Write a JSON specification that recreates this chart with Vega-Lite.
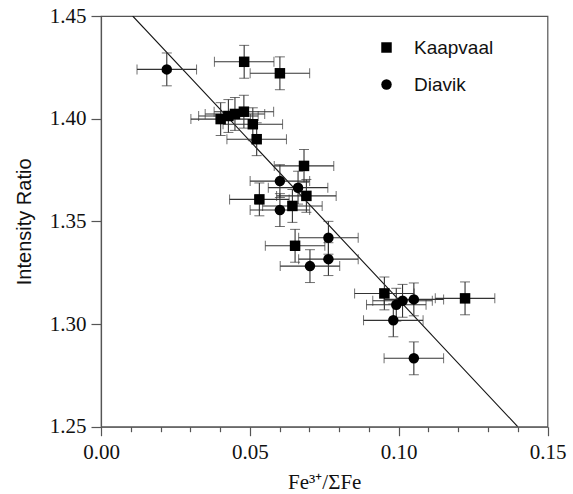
{
  "$schema": "https://vega.github.io/schema/vega-lite/v6.json",
  "width": 446.5,
  "height": 410.7,
  "autosize": {"type": "none"},
  "padding": {"left": 101, "top": 16, "right": 25.5, "bottom": 67.3},
  "background": "white",
  "config": {
    "font": "Liberation Serif",
    "view": {"stroke": "#555", "strokeWidth": 1.2},
    "axis": {"grid": false, "domainColor": "#555", "tickColor": "#555", "domainWidth": 1.2, "tickWidth": 1.2, "labelColor": "#111", "titleColor": "#111", "titleFontWeight": "normal", "labelFont": "Liberation Serif", "titleFont": "Liberation Serif"}
  },
  "datasets": {
    "pts": [
      {"site": "Kaapvaal", "x": 0.0481, "y": 1.4277, "xerr": 0.010, "yerr": 0.008},
      {"site": "Kaapvaal", "x": 0.0601, "y": 1.4221, "xerr": 0.010, "yerr": 0.008},
      {"site": "Kaapvaal", "x": 0.0402, "y": 1.3998, "xerr": 0.010, "yerr": 0.008},
      {"site": "Kaapvaal", "x": 0.0428, "y": 1.4013, "xerr": 0.010, "yerr": 0.008},
      {"site": "Kaapvaal", "x": 0.0450, "y": 1.4023, "xerr": 0.010, "yerr": 0.008},
      {"site": "Kaapvaal", "x": 0.0480, "y": 1.4034, "xerr": 0.010, "yerr": 0.008},
      {"site": "Kaapvaal", "x": 0.0510, "y": 1.3973, "xerr": 0.010, "yerr": 0.008},
      {"site": "Kaapvaal", "x": 0.0523, "y": 1.3900, "xerr": 0.010, "yerr": 0.008},
      {"site": "Kaapvaal", "x": 0.0682, "y": 1.3770, "xerr": 0.010, "yerr": 0.008},
      {"site": "Kaapvaal", "x": 0.0532, "y": 1.3607, "xerr": 0.010, "yerr": 0.008},
      {"site": "Kaapvaal", "x": 0.0643, "y": 1.3575, "xerr": 0.010, "yerr": 0.008},
      {"site": "Kaapvaal", "x": 0.0690, "y": 1.3624, "xerr": 0.010, "yerr": 0.008},
      {"site": "Kaapvaal", "x": 0.0652, "y": 1.3381, "xerr": 0.010, "yerr": 0.008},
      {"site": "Kaapvaal", "x": 0.0952, "y": 1.3149, "xerr": 0.010, "yerr": 0.008},
      {"site": "Kaapvaal", "x": 0.1223, "y": 1.3125, "xerr": 0.010, "yerr": 0.008},
      {"site": "Diavik", "x": 0.0221, "y": 1.4240, "xerr": 0.010, "yerr": 0.008},
      {"site": "Diavik", "x": 0.0601, "y": 1.3696, "xerr": 0.010, "yerr": 0.008},
      {"site": "Diavik", "x": 0.0662, "y": 1.3664, "xerr": 0.010, "yerr": 0.008},
      {"site": "Diavik", "x": 0.0601, "y": 1.3555, "xerr": 0.010, "yerr": 0.008},
      {"site": "Diavik", "x": 0.0764, "y": 1.3420, "xerr": 0.010, "yerr": 0.008},
      {"site": "Diavik", "x": 0.0764, "y": 1.3316, "xerr": 0.010, "yerr": 0.008},
      {"site": "Diavik", "x": 0.0702, "y": 1.3282, "xerr": 0.010, "yerr": 0.008},
      {"site": "Diavik", "x": 0.0992, "y": 1.3094, "xerr": 0.010, "yerr": 0.008},
      {"site": "Diavik", "x": 0.1013, "y": 1.3113, "xerr": 0.010, "yerr": 0.008},
      {"site": "Diavik", "x": 0.1051, "y": 1.3120, "xerr": 0.010, "yerr": 0.008},
      {"site": "Diavik", "x": 0.0982, "y": 1.3018, "xerr": 0.010, "yerr": 0.008},
      {"site": "Diavik", "x": 0.1051, "y": 1.2833, "xerr": 0.010, "yerr": 0.008}
    ],
    "fit": [
      {"x": 0.01065, "y": 1.45},
      {"x": 0.1400, "y": 1.25}
    ]
  },
  "encoding": {
    "x": {"field": "x", "type": "quantitative", "scale": {"domain": [0, 0.15], "nice": false, "zero": false},
      "axis": {"values": [0, 0.01, 0.02, 0.03, 0.04, 0.05, 0.06, 0.07, 0.08, 0.09, 0.1, 0.11, 0.12, 0.13, 0.14, 0.15],
        "labelExpr": "round(datum.value*100) % 5 == 0 ? format(datum.value, '.2f') : ''",
        "tickSize": {"condition": {"test": "round(datum.value*100) % 5 == 0", "value": 9}, "value": 5},
        "labelFont": "Liberation Serif", "labelFontSize": 21,
        "labelPadding": 6, "labelFlush": false, "labelOverlap": false,
        "title": "Fe³⁺/ΣFe", "titleFont": "Liberation Serif", "titleFontSize": 21, "titlePadding": 9}},
    "y": {"field": "y", "type": "quantitative", "scale": {"domain": [1.25, 1.45], "nice": false, "zero": false},
      "axis": {"values": [1.25, 1.3, 1.35, 1.4, 1.45], "format": ".2f", "tickSize": 10, "labelPadding": 5,
        "labelFont": "Liberation Serif", "labelFontSize": 21,
        "title": "Intensity Ratio", "titleFont": "Liberation Sans", "titleFontSize": 20, "titlePadding": 15}}
  },
  "layer": [
    {
      "data": {"name": "fit"},
      "mark": {"type": "line", "color": "#111", "strokeWidth": 1.1, "clip": true}
    },
    {
      "data": {"name": "pts"},
      "mark": {"type": "errorbar", "ticks": {"size": 10, "color": "#333", "strokeWidth": 1.1}, "rule": {"color": "#333", "strokeWidth": 1.1}},
      "encoding": {
        "xError": {"field": "xerr"}
      }
    },
    {
      "data": {"name": "pts"},
      "mark": {"type": "errorbar", "ticks": {"size": 10, "color": "#333", "strokeWidth": 1.1}, "rule": {"color": "#333", "strokeWidth": 1.1}},
      "encoding": {
        "yError": {"field": "yerr"}
      }
    },
    {
      "data": {"name": "pts"},
      "mark": {"type": "point", "filled": true, "opacity": 1, "size": 110, "color": "#000"},
      "encoding": {
        "shape": {"field": "site", "type": "nominal",
          "scale": {"domain": ["Kaapvaal", "Diavik"], "range": ["square", "circle"]},
          "legend": {"title": null, "orient": "none", "legendX": 276, "legendY": 22, "padding": 0,
            "symbolSize": 110, "symbolFillColor": "#000", "symbolStrokeColor": "#000", "symbolStrokeWidth": 0,
            "labelFont": "Liberation Sans", "labelFontSize": 19, "labelColor": "#111", "labelOffset": 18, "rowPadding": 17}}
      }
    }
  ]
}
